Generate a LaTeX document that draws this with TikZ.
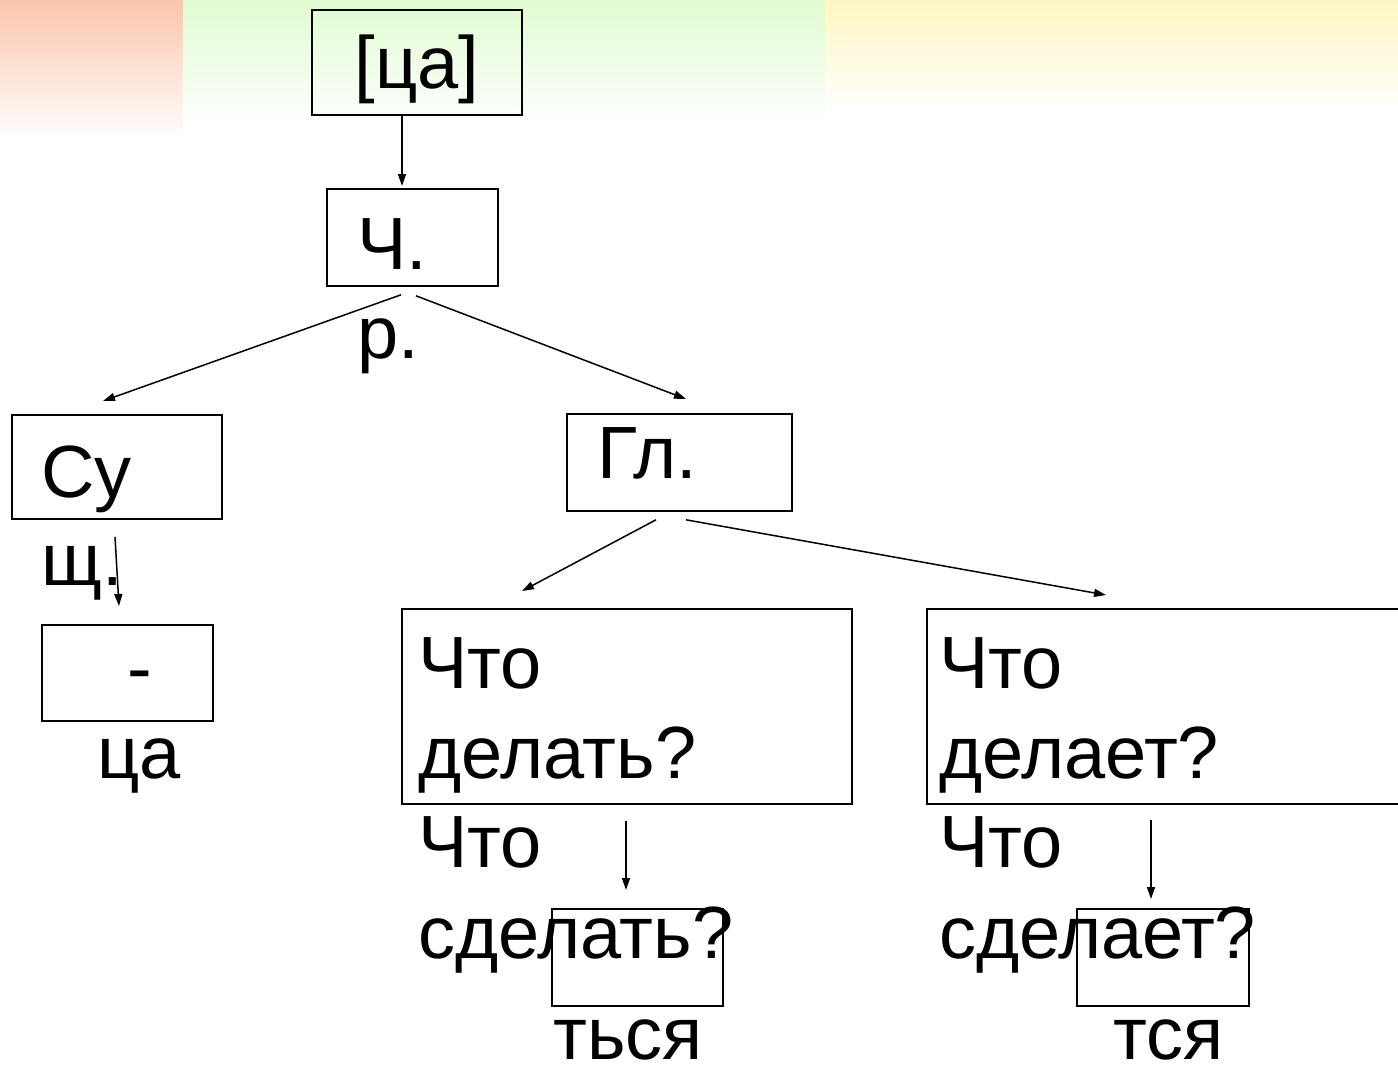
\documentclass[tikz,border=0pt]{standalone}
\usepackage{fontspec}
\setmainfont{Liberation Sans}
\usetikzlibrary{arrows.meta,calc}
\definecolor{bgorange}{RGB}{250,198,170}
\definecolor{bggreen}{RGB}{224,252,208}
\definecolor{bgyellow}{RGB}{253,246,194}
\begin{document}
\begin{tikzpicture}[x=1pt,y=-1pt,
  box/.style={draw=black,line width=1.8pt,inner sep=0pt,anchor=north west},
  txt/.style={inner sep=0pt,anchor=base west,font=\fontsize{74}{90}\selectfont},
  arr/.style={line width=1.5pt,-{Triangle[length=12pt,width=8pt]}}]
\useasboundingbox (0,0) rectangle (1398,1066);
\fill[white] (0,0) rectangle (1398,1066);
% background bands
\shade[top color=bgorange,bottom color=white] (0,0) rectangle (183,140);
\shade[top color=bggreen,bottom color=white] (183,0) rectangle (825,128);
\shade[top color=bgyellow,bottom color=white] (825,0) rectangle (1398,112);
% boxes
\node[box,minimum width=210pt,minimum height=105pt] (ca) at (311,9) {};
\node[box,minimum width=171pt,minimum height=97pt] (ch) at (326,188) {};
\node[box,minimum width=210pt,minimum height=104pt] (su) at (11,414) {};
\node[box,minimum width=171pt,minimum height=96pt] (dash) at (41,624) {};
\node[box,minimum width=225pt,minimum height=97pt] (gl) at (566,413) {};
\node[box,minimum width=450pt,minimum height=195pt] (lb) at (401,608) {};
\node[box,minimum width=480pt,minimum height=195pt] (rb) at (926,608) {};
\node[box,minimum width=171pt,minimum height=97pt] (tsya1) at (551,908) {};
\node[box,minimum width=172pt,minimum height=97pt] (tsya2) at (1076,908) {};
% texts
\node[txt,anchor=base] (tca) at (417,88) {[ца]};
\node[txt] (tch1) at (357,269) {Ч.};
\node[txt] (tch2) at (357,358) {р.};
\node[txt] (tsu1) at (41,497) {Су};
\node[txt] (tsu2) at (41,585) {щ.};
\node[txt] (tdash) at (127,693) {-};
\node[txt] (tca2) at (97,778) {ца};
\node[txt] (tgl) at (597,478) {Гл.};
\node[txt] (l1) at (418,688) {Что};
\node[txt] (l2) at (418,778) {делать?};
\node[txt] (l3) at (418,867) {Что};
\node[txt] (l4) at (418,958) {сделать?};
\node[txt] (r1) at (939,688) {Что};
\node[txt] (r2) at (939,778) {делает?};
\node[txt] (r3) at (939,867) {Что};
\node[txt] (r4) at (939,958) {сделает?};
\node[txt] (t1) at (553,1059) {ться};
\node[txt] (t2) at (1113,1059) {тся};
% connectors
\draw[arr] ($(ca.south west)+(91,0)$) -- ($(ch.north west)+(76,-2)$);
\draw[arr] ($(ch.south west)+(75,8)$) -- ($(su.north west)+(92,-13)$);
\draw[arr] ($(ch.south west)+(90,9)$) -- ($(gl.north west)+(120,-14)$);
\draw[arr] ($(su.south west)+(104,17)$) -- ($(dash.north west)+(78,-18)$);
\draw[arr] ($(gl.south west)+(90,8)$) -- ($(lb.north west)+(121,-17)$);
\draw[arr] ($(gl.south west)+(120,8)$) -- ($(rb.north west)+(180,-13)$);
\draw[arr] ($(lb.south west)+(225,16)$) -- ($(tsya1.north west)+(75,-18)$);
\draw[arr] ($(rb.south west)+(225,15)$) -- ($(tsya2.north west)+(75,-9)$);
\end{tikzpicture}
\end{document}
